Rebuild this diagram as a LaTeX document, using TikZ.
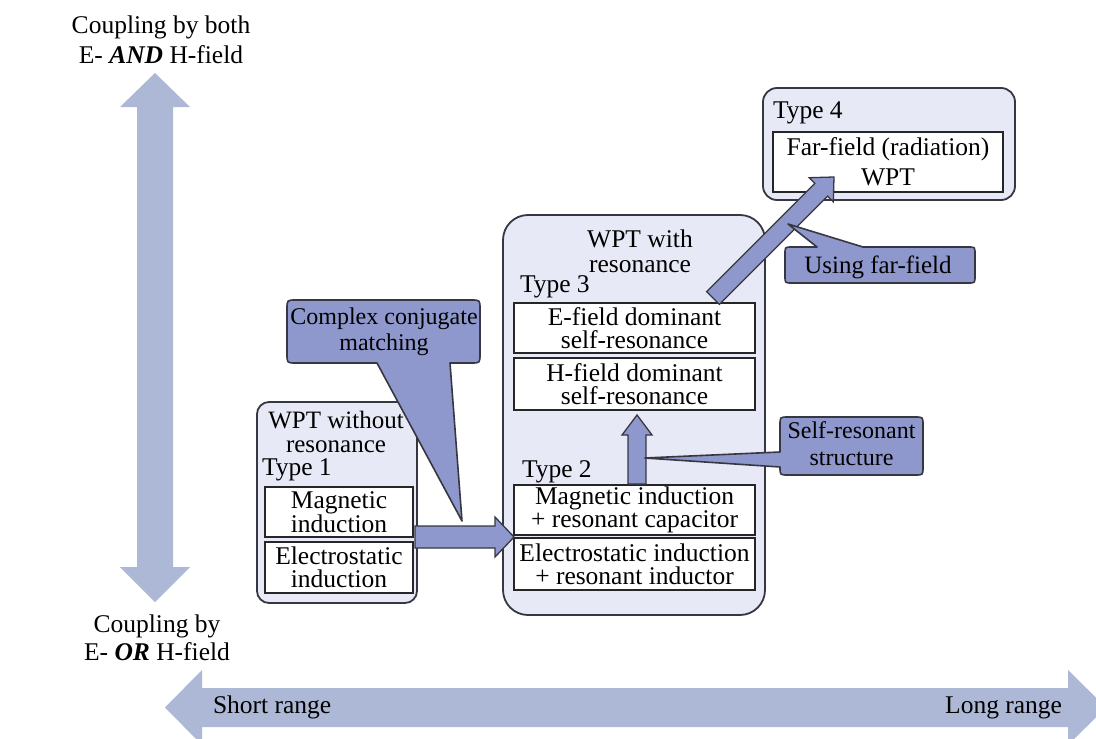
\documentclass[tikz,border=0pt]{standalone}
\usepackage{fontspec}
\setmainfont{Liberation Serif}
\usetikzlibrary{calc}
\definecolor{axisfill}{RGB}{172,184,214}
\definecolor{calfill}{RGB}{143,152,204}
\definecolor{boxfill}{RGB}{231,233,246}
\definecolor{edgecol}{RGB}{55,55,65}
\newcommand{\fatarrow}[6]{%
  \coordinate (fahb) at ($(#2)!#5!(#1)$);
  \path[#6] ($(#1)!#3!90:(#2)$) -- ($(fahb)!#3!90:(#2)$) -- ($(fahb)!#4!90:(#2)$) -- (#2)
    -- ($(fahb)!#4!-90:(#2)$) -- ($(fahb)!#3!-90:(#2)$) -- ($(#1)!#3!-90:(#2)$) -- cycle;}
\begin{document}
\begin{tikzpicture}[x=1pt,y=-1pt,
  every node/.style={inner sep=0pt, outer sep=0pt, font=\fontsize{25.5}{23}\selectfont},
  outerbox/.style={draw=edgecol, line width=1.8pt, fill=boxfill},
  innerbox/.style={draw=black!85, line width=2pt, fill=white, align=center},
  calloutshape/.style={draw=edgecol, line width=1.6pt, fill=calfill, line join=round},
  fatstyle/.style={draw=edgecol, line width=1.3pt, fill=calfill, line join=miter},
  axisarrow/.style={fill=axisfill},
  lbl/.style={align=center},
  typelbl/.style={anchor=base west}]
\useasboundingbox (0,0) rectangle (1096,739);
\clip (0,0) rectangle (1096,739);
\fill[white] (0,0) rectangle (1096,739);

% axis arrows
\fill[axisarrow] (155,73) -- (190,107) -- (173,107) -- (173,567) -- (190,567) -- (155,602)
  -- (120,567) -- (137,567) -- (137,107) -- (120,107) -- cycle;
\fill[axisarrow] (165,707.5) -- (202,670) -- (202,688) -- (1068,688) -- (1068,670) -- (1106,707.5)
  -- (1068,745) -- (1068,727) -- (202,727) -- (202,745) -- cycle;

\node[lbl, font=\fontsize{25.5}{30}\selectfont] (toplbl) at (161,39.3) {Coupling by both\\E- \textbf{\textit{AND}} H-field};
\node[lbl, font=\fontsize{25.5}{28}\selectfont] (botlbl) at (157,637.3) {Coupling by\\E- \textbf{\textit{OR}} H-field};
\node[anchor=base west] (short) at (213,713) {Short range};
\node[anchor=base east] (long) at (1062,713) {Long range};

% Type 1
\node[outerbox, rounded corners=12pt, minimum width=160, minimum height=201] (t1) at (337,502.5) {};
\node[lbl, font=\fontsize{25}{24}\selectfont] (t1lbl) at (336,432) {WPT without\\resonance};
\node[typelbl] (t1type) at (262,475) {Type 1};
\node[innerbox, minimum width=148, minimum height=50] (mag) at (339,512) {Magnetic\\induction};
\node[innerbox, minimum width=148, minimum height=51] (elec) at (339,567.5) {Electrostatic\\induction};

% resonance
\node[outerbox, rounded corners=25pt, minimum width=262, minimum height=400] (res) at (634,415) {};
\node[lbl, font=\fontsize{25.5}{25}\selectfont] (reslbl) at (640,251) {WPT with\\resonance};
\node[typelbl] (t3lbl) at (520,292) {Type 3};
\node[innerbox, minimum width=241, minimum height=50] (efield) at (634.5,328) {E-field dominant\\self-resonance};
\node[innerbox, minimum width=241, minimum height=52] (hfield) at (634.5,384) {H-field dominant\\self-resonance};
\node[typelbl] (t2lbl) at (522,477) {Type 2};
\node[innerbox, minimum width=241, minimum height=50] (magcap) at (634.5,510) {Magnetic induction\\+ resonant capacitor};
\node[innerbox, minimum width=241, minimum height=52] (elecind) at (634.5,564) {Electrostatic induction\\+ resonant inductor};

% Type 4
\node[outerbox, rounded corners=14pt, minimum width=252, minimum height=112] (t4) at (889,144) {};
\node[typelbl] (t4lbl) at (773,118) {Type 4};
\node[innerbox, minimum width=230, minimum height=60, font=\fontsize{25.5}{30}\selectfont] (far) at (888,162) {Far-field (radiation)\\WPT};

% fat arrows
\coordinate (d1) at ($(efield.north east)+(-42,-5)$);
\coordinate (d2) at ($(far.south west)+(61,-15)$);
\fatarrow{d1}{d2}{9pt}{17pt}{18pt}{fatstyle}
\coordinate (h1) at ($(mag.south east)+(2,0)$);
\coordinate (h2) at ($(magcap.south west)+(0,2)$);
\fatarrow{h1}{h2}{11pt}{20pt}{19pt}{fatstyle}
\coordinate (u1) at ($(magcap.north)+(2.5,-1)$);
\coordinate (u2) at ($(hfield.south)+(2.5,5)$);
\fatarrow{u1}{u2}{9pt}{15pt}{20pt}{fatstyle}

% callouts
\coordinate (cctip) at (462,521);
\draw[calloutshape] (296,300) -- (471,300) .. controls (480,300) .. (480,309) -- (480,354)
  .. controls (480,363) .. (471,363) -- (450,363) -- (cctip) -- (377,363) -- (296,363)
  .. controls (287,363) .. (287,354) -- (287,309) .. controls (287,300) .. (296,300) -- cycle;
\node[lbl, font=\fontsize{24}{26}\selectfont] (cctext) at (384,332) {Complex conjugate\\matching};

\coordinate (uftip) at (788,224);
\draw[calloutshape] (792,247) -- (817,247) -- (uftip) -- (863,247) -- (968,247)
  .. controls (975,247) .. (975,254) -- (975,276) .. controls (975,283) .. (968,283) -- (792,283)
  .. controls (785,283) .. (785,276) -- (785,254) .. controls (785,247) .. (792,247) -- cycle;
\node[font=\fontsize{25}{25}\selectfont] (uftext) at (878,267) {Using far-field};

\coordinate (srtip) at (645,458);
\draw[calloutshape] (788,417) -- (915,417) .. controls (923,417) .. (923,425) -- (923,467)
  .. controls (923,475) .. (915,475) -- (788,475) .. controls (780,475) .. (780,467) -- (srtip)
  -- (780,452) -- (780,425) .. controls (780,417) .. (788,417) -- cycle;
\node[lbl, font=\fontsize{24}{27}\selectfont] (srtext) at (851.5,444) {Self-resonant\\structure};
\end{tikzpicture}
\end{document}
